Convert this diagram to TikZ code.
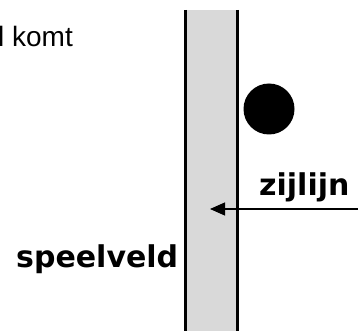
\documentclass[tikz,border=0pt]{standalone}
\usepackage{fontspec}
\newfontfamily\verdb{DejaVu Sans}
\newfontfamily\arialf{Liberation Sans}
\usetikzlibrary{arrows.meta}
\definecolor{bandgray}{RGB}{217,217,217}
\begin{document}
\begin{tikzpicture}[x=1pt,y=-1pt,
  lbl/.style={inner sep=0pt, font=\verdb\bfseries\fontsize{30}{34}\selectfont},
  edge/.style={line width=3pt},
  ptr/.style={line width=1.2pt, -{Triangle[length=15pt,width=13pt]}}]
\useasboundingbox (0,0) rectangle (358,331);
\fill[bandgray] (185,10) rectangle (237,335);
\draw[edge] (185,10) -- (185,335);
\draw[edge] (237,10) -- (237,335);
\node[circle, fill=black, minimum size=51pt, inner sep=0pt] (ball) at (269,109) {};
\node[lbl, anchor=base west] (zij) at (259,195) {zijlijn};
\node[lbl, anchor=base west] (speel) at (16,267) {speelveld};
\node[inner sep=0pt, anchor=base west, font=\arialf\fontsize{28}{32}\selectfont] (komt) at (-2,46.7) {l komt};
\coordinate (astart) at (360,209);
\coordinate (atip) at (210,209);
\draw[ptr] (astart) -- (atip);
\end{tikzpicture}
\end{document}
